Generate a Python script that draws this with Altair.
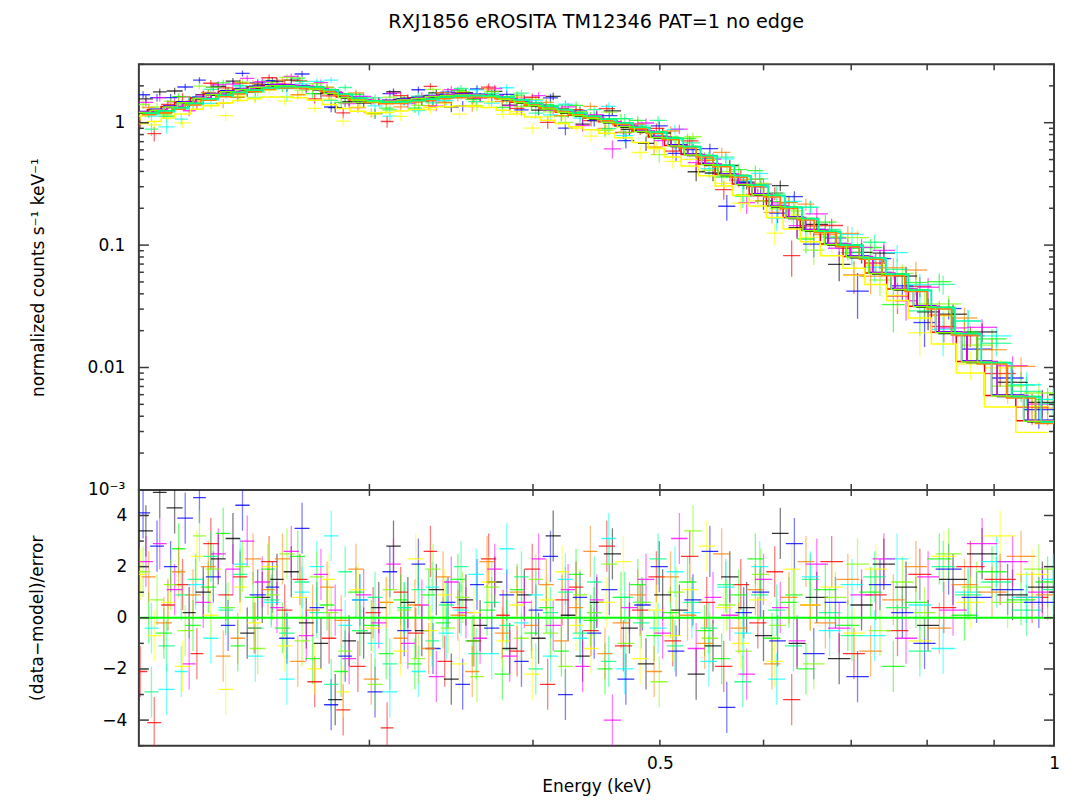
import altair as alt
import numpy as np
import pandas as pd

# ---------------------------------------------------------------------------
# Channel grouping: bin edges in keV for the five grouping schemes
# ---------------------------------------------------------------------------
edges_a = [0.200, 0.205, 0.210, 0.216, 0.221, 0.227, 0.233, 0.239, 0.245, 0.252,
           0.258, 0.265, 0.272, 0.279, 0.286, 0.293, 0.301, 0.309, 0.317, 0.325,
           0.333, 0.342, 0.351, 0.360, 0.369, 0.379, 0.389, 0.399, 0.409, 0.420,
           0.431, 0.442, 0.453, 0.467, 0.481, 0.495, 0.510, 0.525, 0.541, 0.557,
           0.574, 0.591, 0.609, 0.627, 0.646, 0.672, 0.699, 0.727, 0.756, 0.786,
           0.817, 0.858, 0.905, 0.955, 1.005]
edges_b = [0.198, 0.203, 0.208, 0.213, 0.219, 0.224, 0.230, 0.236, 0.242, 0.248,
           0.255, 0.262, 0.269, 0.276, 0.283, 0.290, 0.298, 0.306, 0.313, 0.321,
           0.330, 0.338, 0.347, 0.356, 0.365, 0.375, 0.384, 0.394, 0.405, 0.416,
           0.426, 0.437, 0.449, 0.462, 0.476, 0.490, 0.504, 0.519, 0.535, 0.551,
           0.568, 0.585, 0.603, 0.621, 0.640, 0.663, 0.690, 0.717, 0.745, 0.774,
           0.806, 0.842, 0.885, 0.935, 0.990]
edges_c = [0.201, 0.206, 0.212, 0.217, 0.223, 0.229, 0.235, 0.241, 0.248, 0.254,
           0.261, 0.268, 0.275, 0.282, 0.289, 0.297, 0.305, 0.313, 0.321, 0.329,
           0.337, 0.346, 0.355, 0.364, 0.374, 0.384, 0.394, 0.404, 0.415, 0.426,
           0.437, 0.448, 0.460, 0.474, 0.488, 0.502, 0.517, 0.533, 0.549, 0.566,
           0.583, 0.600, 0.618, 0.637, 0.656, 0.682, 0.710, 0.739, 0.769, 0.800,
           0.835, 0.874, 0.920, 0.968, 1.010]
edges_d = [0.199, 0.204, 0.209, 0.214, 0.220, 0.225, 0.231, 0.237, 0.243, 0.250,
           0.256, 0.263, 0.270, 0.277, 0.284, 0.291, 0.299, 0.307, 0.315, 0.323,
           0.331, 0.340, 0.349, 0.358, 0.367, 0.377, 0.387, 0.397, 0.407, 0.418,
           0.429, 0.440, 0.451, 0.464, 0.478, 0.492, 0.507, 0.522, 0.538, 0.554,
           0.571, 0.588, 0.606, 0.624, 0.643, 0.668, 0.694, 0.722, 0.751, 0.781,
           0.812, 0.850, 0.896, 0.948, 1.000]
edges_e = [0.202, 0.207, 0.213, 0.218, 0.224, 0.230, 0.236, 0.242, 0.249, 0.256,
           0.263, 0.270, 0.277, 0.284, 0.291, 0.299, 0.307, 0.315, 0.323, 0.331,
           0.339, 0.348, 0.357, 0.367, 0.377, 0.387, 0.397, 0.407, 0.418, 0.429,
           0.440, 0.451, 0.463, 0.477, 0.491, 0.506, 0.521, 0.537, 0.553, 0.570,
           0.587, 0.605, 0.623, 0.642, 0.661, 0.687, 0.715, 0.744, 0.774, 0.806,
           0.840, 0.880, 0.928, 0.978, 1.020]

# Folded model (normalized counts s^-1 keV^-1) per channel at unit normalization
model_counts = [1.20, 1.25, 1.33, 1.44, 1.57, 1.68, 1.77, 1.85, 1.93,
                1.98, 1.98, 1.95, 1.86, 1.72, 1.59, 1.51, 1.47, 1.48,
                1.52, 1.56, 1.62, 1.65, 1.67, 1.66, 1.62, 1.54, 1.44,
                1.36, 1.28, 1.20, 1.13, 1.07, 1.00, 0.92, 0.84, 0.75,
                0.64, 0.54, 0.45, 0.37, 0.31, 0.255, 0.205, 0.165, 0.13,
                0.10, 0.079, 0.058, 0.043, 0.031, 0.019, 0.011, 0.0058, 0.0036]

# Fractional 1-sigma uncertainty per channel
frac_err = [0.090, 0.088, 0.085, 0.082, 0.080, 0.078, 0.076, 0.074, 0.072,
            0.070, 0.070, 0.070, 0.070, 0.071, 0.072, 0.073, 0.074, 0.075,
            0.075, 0.075, 0.076, 0.077, 0.078, 0.079, 0.080, 0.082, 0.084,
            0.086, 0.088, 0.090, 0.093, 0.096, 0.100, 0.103, 0.107, 0.110,
            0.115, 0.120, 0.125, 0.130, 0.135, 0.140, 0.150, 0.160, 0.170,
            0.190, 0.210, 0.230, 0.250, 0.270, 0.290, 0.310, 0.340, 0.370]

# Residuals (data-model)/error for each spectrum
resid_1 = [3.4, 4.9, 4.3, 0.2, 1.0, 2.3, 3.1, -0.6, 0.8,
           1.5, 1.8, -0.2, -1.0, -3.2, -0.9, -0.6, 0.4, 2.8,
           0.6, -0.5, 1.1, -2.4, 0.7, -0.3, 1.4, -1.2, 0.9,
           -0.8, 3.2, 0.1, -1.5, 0.6, 2.5, -0.4, -1.8, 0.9,
           0.3, -2.2, -1.1, 1.6, 0.4, -0.7, 3.3, -1.0, 0.8,
           -1.6, 0.5, 2.1, 1.2, -0.3, 1.5, 2.5, 0.9, 1.2]
resid_2 = [-2.1, -4.1, 0.5, 1.3, -1.4, 2.9, 0.9, 1.6, -0.4,
           2.2, 0.3, 1.5, -2.5, -0.8, -3.6, -1.9, 0.2, -4.3,
           1.0, -0.6, 2.6, -1.7, 0.4, -0.9, 2.3, 0.1, -1.3,
           1.9, -2.6, 0.7, 1.2, -0.5, 2.8, -1.1, 0.3, 1.6,
           -0.9, 2.4, 0.6, -1.9, 1.3, -0.2, 1.8, -3.2, 0.5,
           2.2, -1.4, 0.9, -0.5, 1.7, 0.4, 2.0, 1.5, 0.8]
resid_3 = [0.0, -0.6, 2.7, -0.3, 1.2, 3.3, -1.1, 0.8, 1.9,
           -0.4, 2.4, -1.6, 0.5, -2.1, 1.0, -0.3, -1.4, 0.7,
           -1.8, 0.9, -0.2, 1.5, -0.9, 0.3, -2.2, 1.1, -0.6,
           0.4, -1.3, 1.7, -0.1, -2.0, 0.8, 1.3, -0.7, 0.2,
           1.4, -0.5, -1.6, 0.9, 2.3, -0.8, 0.6, -2.0, 1.1,
           -0.3, 1.0, -1.9, 0.6, 2.3, 0.1, 1.8, 0.7, 1.4]
resid_4 = [4.1, 2.8, 2.0, 3.9, 4.7, 1.6, -0.3, 4.4, 0.9,
           1.2, -0.8, 3.5, 0.4, -3.4, -1.5, 0.7, -2.9, 1.8,
           -0.5, 2.1, -1.2, 0.6, -2.6, 1.3, -0.4, 0.9, -1.7,
           0.3, 2.4, -3.0, 0.8, -0.6, 1.1, -2.4, 0.5, 2.0,
           -1.3, 0.7, 2.6, -3.5, 0.2, 1.0, -0.9, 2.9, -1.4,
           0.6, -2.3, 1.3, 0.2, -1.0, 1.9, 0.8, 1.1, 0.6]
resid_5 = [-0.4, -2.8, -2.1, 1.3, -0.8, 0.4, 2.1, -1.5, 0.6,
           -2.4, 1.0, 2.0, 3.2, -0.3, 0.7, -1.0, -2.9, 0.4,
           -2.1, 1.2, -0.6, 0.3, 1.7, -1.4, 2.7, -0.2, 0.9,
           -1.5, 1.5, -0.8, 0.2, 3.1, -2.0, 0.6, -0.4, 1.8,
           0.2, -1.7, 1.2, -0.6, 2.0, -2.4, 0.9, 1.6, -0.5,
           1.3, -0.7, 2.3, 0.5, -1.2, 1.0, 2.2, 0.8, 1.5]
resid_6 = [2.2, 2.9, 1.1, -1.8, 0.6, 2.5, 1.9, 3.0, 1.4,
           0.4, 2.6, -0.7, 1.7, 0.3, -1.6, 0.9, -0.2, 2.1,
           -1.0, 0.5, -2.3, 1.4, 0.2, -0.8, 1.9, -1.5, 0.6,
           2.3, -0.3, 1.1, -1.9, 0.7, -4.0, 0.4, 1.5, -0.6,
           3.1, -1.2, 0.8, 0.1, -2.2, 1.5, 0.4, -0.9, 2.1,
           -0.4, 0.9, 2.3, -0.8, 1.6, 0.3, 2.9, 2.2, 1.0]
resid_7 = [1.7, -0.7, 0.6, -1.9, 2.4, 0.1, -2.8, 1.2, -0.2,
           2.0, -1.1, 0.8, -2.0, 1.5, -2.9, 1.1, -0.4, 0.6,
           -1.3, 2.3, -0.5, 0.9, -1.8, 0.2, 1.4, -0.9, 0.5,
           -2.2, 0.7, 1.8, -0.3, -1.2, 0.6, 2.2, -1.6, 0.3,
           -0.7, 1.1, 2.8, 0.4, -1.0, 0.7, -1.7, 1.9, 0.5,
           1.2, -0.6, 1.9, 0.4, -0.9, 2.4, 0.6, 3.2, 1.7]
resid_8 = [1.6, -0.2, 1.8, 0.9, 2.0, -1.5, -0.8, 2.3, 1.1,
           2.3, -1.7, 0.3, 1.2, -0.1, 1.9, -2.4, 0.6, -0.8,
           0.5, -1.2, 1.6, 0.1, -2.1, 2.2, -0.6, 1.0, -0.3,
           1.3, -0.9, 0.4, 2.6, -1.4, -0.2, 0.9, -2.1, 1.6,
           0.1, -1.0, 2.5, -0.4, 1.1, -1.8, 0.8, 2.2, -0.2,
           1.5, -1.3, 0.7, 2.0, -0.4, 1.3, 1.0, 2.4, 0.9]
resid_9 = [1.8, 0.7, 1.3, -0.5, 3.2, 1.9, 0.4, 2.0, -1.2,
           0.9, 2.5, -0.9, 1.6, 0.2, -1.3, -0.5, -2.6, 1.1,
           0.3, -1.6, 1.9, -0.4, 0.8, -2.3, 1.2, 0.0, -0.8,
           1.5, -0.6, -1.9, 0.9, 0.2, 2.1, -1.0, 0.6, -2.5,
           1.0, 3.4, -0.8, 0.5, -1.3, 1.7, -0.3, 0.9, -1.8,
           0.8, 2.1, -0.5, 1.4, 0.2, 2.5, 1.2, 0.6, 1.9]
resid_10 = [-2.9, -1.1, 0.9, 1.5, 2.4, 0.3, 1.7, -0.4, 0.7,
            -0.6, 1.4, 0.2, -2.6, 1.8, -0.5, 0.8, -1.8, 0.4,
            1.1, -0.9, 0.5, 2.0, -1.4, 0.6, -0.3, 1.6, -2.0,
            0.2, 1.0, -0.6, 1.4, -1.7, 0.8, -0.2, 2.3, -1.1,
            0.6, -0.4, 1.3, -2.5, 0.9, 0.3, -1.1, 1.5, 0.2,
            -0.7, 1.6, 0.4, -1.3, 2.0, 0.9, 1.4, 0.3, 1.1]

set_names = ["d01", "d02", "d03", "d04", "d05", "d06", "d07", "d08", "d09", "d10"]
set_colors = ["#000000", "#ff0000", "#00ff00", "#0000ff", "#00ffff",
              "#ff00ff", "#ffff00", "#ff8000", "#80ff00", "#00ff80"]
set_norms = [1.00, 1.02, 1.00, 1.03, 0.98, 1.02, 0.82, 0.97, 1.01, 1.00]
set_edges = [edges_a, edges_b, edges_c, edges_d, edges_e,
             edges_a, edges_b, edges_c, edges_d, edges_e]
set_resid = [resid_1, resid_2, resid_3, resid_4, resid_5,
             resid_6, resid_7, resid_8, resid_9, resid_10]

title_text = "RXJ1856 eROSITA TM12346 PAT=1 no edge"

# ---------------------------------------------------------------------------
# Build the tables
# ---------------------------------------------------------------------------
pts_frames, mdl_frames = [], []
for k, (name, edges, norm, res) in enumerate(zip(set_names, set_edges, set_norms, set_resid)):
    assert len(edges) == len(model_counts) + 1 == len(res) + 1 == len(frac_err) + 1
    lo = np.array(edges[:-1])
    hi = np.array(edges[1:])
    mid = np.sqrt(lo * hi)
    m = np.array(model_counts) * norm
    sig = np.array(frac_err) * m
    r = np.array(res)
    data = m + r * sig
    pts_frames.append(pd.DataFrame({
        "set": name, "order": k, "lo": lo, "hi": hi, "mid": mid,
        "data": data, "dlo": np.maximum(data - sig, 1e-4), "dhi": data + sig,
        "res": r, "rlo": r - 1.0, "rhi": r + 1.0,
    }))
    mdl_frames.append(pd.DataFrame({
        "set": name, "order": k,
        "E": np.append(lo, hi[-1]), "model": np.append(m, m[-1]),
    }))
pts = pd.concat(pts_frames, ignore_index=True)
mdl = pd.concat(mdl_frames, ignore_index=True)

W, H1, H2 = 916, 426, 256
FRAME = "#3a3a3a"

x_tick_vals = pd.DataFrame({"E": [0.3, 0.4, 0.5, 0.6, 0.7, 0.8, 0.9]})
top_major = pd.DataFrame({"v": [0.001, 0.01, 0.1, 1.0]})
top_minor = pd.DataFrame({"v": [k * 10.0 ** d for d in range(-3, 0) for k in range(2, 10)] + [2.0, 3.0]})
bot_major = pd.DataFrame({"v": [-4, -2, 0, 2, 4]})
bot_minor = pd.DataFrame({"v": [-5, -3, -1, 1, 3, 5]})

xs = alt.Scale(type="log", domain=[0.2, 1.0], nice=False)
ys_top = alt.Scale(type="log", domain=[0.001, 3.0], nice=False)
ys_bot = alt.Scale(domain=[-5, 5], nice=False, zero=False)

color_enc = alt.Color("set:N", scale=alt.Scale(domain=set_names, range=set_colors), legend=None)

ax_top_y = alt.Axis(values=[0.001, 0.01, 0.1, 1.0],
                    labelExpr="datum.value > 0.5 ? '1' : datum.value > 0.05 ? '0.1' : datum.value > 0.005 ? '0.01' : '10⁻³'",
                    ticks=False, tickSize=0, domain=False, grid=False,
                    labelPadding=14, title="normalized counts s⁻¹ keV⁻¹", titlePadding=40)
ax_bot_y = alt.Axis(values=[-4, -2, 0, 2, 4], ticks=False, tickSize=0, domain=False, grid=False,
                    labelPadding=12, title="(data−model)/error", titlePadding=55)
ax_bot_x = alt.Axis(values=[0.5, 1.0], labelExpr="datum.value < 0.75 ? '0.5' : '1'",
                    ticks=False, tickSize=0, domain=False, grid=False, labelFlush=False,
                    labelPadding=10, title="Energy (keV)", titlePadding=7)


def frame_ticks(xaxis, yscale, yaxis, height, major, minor):
    """Inward ticks on all four sides of a panel."""
    layers = []
    xt = alt.Chart(x_tick_vals)
    layers.append(xt.mark_rule(color=FRAME, strokeWidth=1.5).encode(
        x=alt.X("E:Q", scale=xs, axis=xaxis), y=alt.value(height), y2=alt.value(height - 6)))
    layers.append(xt.mark_rule(color=FRAME, strokeWidth=1.5).encode(
        x=alt.X("E:Q", scale=xs, axis=xaxis), y=alt.value(0), y2=alt.value(6)))
    for df, ln in ((major, 10), (minor, 5)):
        c = alt.Chart(df)
        layers.append(c.mark_rule(color=FRAME, strokeWidth=1.5).encode(
            y=alt.Y("v:Q", scale=yscale, axis=yaxis), x=alt.value(0), x2=alt.value(ln)))
        layers.append(c.mark_rule(color=FRAME, strokeWidth=1.5).encode(
            y=alt.Y("v:Q", scale=yscale, axis=yaxis), x=alt.value(W), x2=alt.value(W - ln)))
    return layers


# ---------------------------------------------------------------------------
# Upper panel: spectra with folded model
# ---------------------------------------------------------------------------
base = alt.Chart(pts)
up_xbar = base.mark_rule(strokeWidth=1.3, opacity=0.75, clip=True).encode(
    x=alt.X("lo:Q", scale=xs, axis=None), x2="hi:Q",
    y=alt.Y("data:Q", scale=ys_top, axis=ax_top_y), color=color_enc)
up_ybar = base.mark_rule(strokeWidth=1.3, opacity=0.6, clip=True).encode(
    x=alt.X("mid:Q", scale=xs, axis=None),
    y=alt.Y("dlo:Q", scale=ys_top, axis=ax_top_y), y2="dhi:Q", color=color_enc)
up_model = alt.Chart(mdl).mark_line(interpolate="step-after", strokeWidth=1.5, clip=True).encode(
    x=alt.X("E:Q", scale=xs, axis=None),
    y=alt.Y("model:Q", scale=ys_top, axis=ax_top_y),
    color=color_enc, order=alt.Order("E:Q"))

upper = alt.layer(
    up_ybar, up_xbar, up_model,
    *frame_ticks(None, ys_top, ax_top_y, H1, top_major, top_minor),
).properties(width=W, height=H1)

# ---------------------------------------------------------------------------
# Lower panel: residuals
# ---------------------------------------------------------------------------
lo_xbar = base.mark_rule(strokeWidth=1.3, opacity=0.8, clip=True).encode(
    x=alt.X("lo:Q", scale=xs, axis=ax_bot_x), x2="hi:Q",
    y=alt.Y("res:Q", scale=ys_bot, axis=ax_bot_y), color=color_enc)
lo_ybar = base.mark_rule(strokeWidth=1.3, opacity=0.5, clip=True).encode(
    x=alt.X("mid:Q", scale=xs, axis=ax_bot_x),
    y=alt.Y("rlo:Q", scale=ys_bot, axis=ax_bot_y), y2="rhi:Q", color=color_enc)
zero_line = alt.Chart(pd.DataFrame({"v": [0]})).mark_rule(color="#00ff00", strokeWidth=2).encode(
    y=alt.Y("v:Q", scale=ys_bot, axis=ax_bot_y))

lower = alt.layer(
    lo_ybar, lo_xbar, zero_line,
    *frame_ticks(ax_bot_x, ys_bot, ax_bot_y, H2, bot_major, bot_minor),
).properties(width=W, height=H2)

chart = alt.vconcat(upper, lower, spacing=0, bounds="flush").properties(
    title=alt.TitleParams(title_text, anchor="middle", offset=30, dx=52),
    padding={"left": 27, "top": 13, "right": 12, "bottom": 5},
    background="white",
).configure_view(
    stroke=FRAME, strokeWidth=2
).configure_axis(
    labelFont="DejaVu Sans", labelFontSize=17, labelColor="black",
    titleFont="DejaVu Sans", titleFontSize=17, titleColor="black", titleFontWeight="normal",
).configure_title(
    font="DejaVu Sans", fontSize=19.2, fontWeight="normal", color="black"
)

chart.save("out.html", embed_options={"renderer": "svg", "actions": False})
